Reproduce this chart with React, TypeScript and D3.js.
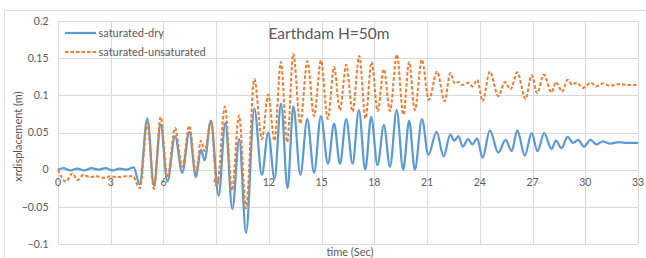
import React from "react";
import * as d3 from "d3";

const title = "Earthdam H=50m";
const seriesNames = ["saturated-dry", "saturated-unsaturated"];
const xTicks = [0, 3, 6, 9, 12, 15, 18, 21, 24, 27, 30, 33];
const yTicks = [-0.1, -0.05, 0, 0.05, 0.1, 0.15, 0.2];
const xLabel = "time (Sec)";
const yLabel = "xrdisplacement  (m)";

// [time (s), displacement (m)] — extrema
const saturatedDry: [number, number][] = [
  [0, 0], [0.3, 0.002], [0.7, -0.001], [1.1, 0.0015], [1.5, -0.001], [1.9, 0.002], [2.3, 0], [2.7, 0.002],
  [3.1, -0.001], [3.5, 0.0015], [3.9, 0], [4.3, 0.003],
  [4.65, -0.02], [5.08, 0.069], [5.46, -0.022], [5.84, 0.061], [6.22, -0.016], [6.66, 0.045], [7.07, -0.004],
  [7.47, 0.051], [7.85, -0.01], [8.13, 0.027], [8.34, 0.0125], [8.7, 0.066], [9.14, -0.035], [9.52, 0.063],
  [9.92, -0.053], [10.31, 0.041], [10.7, -0.085], [11.17, 0.082], [11.6, -0.007], [11.96, 0.05], [12.32, -0.012],
  [12.69, 0.089], [13.06, -0.025], [13.39, 0.085], [13.79, -0.007], [14.18, 0.068], [14.57, -0.004], [14.96, 0.072],
  [15.36, 0.008], [15.71, 0.062], [16.04, 0.008], [16.4, 0.068], [16.76, 0.008], [17.12, 0.08], [17.48, 0],
  [17.82, 0.071], [18.18, 0.006], [18.54, 0.06], [18.89, 0.004], [19.27, 0.08], [19.64, 0], [19.98, 0.066],
  [20.3, 0], [20.71, 0.068], [21.07, 0.02], [21.54, 0.051], [21.94, 0.018], [22.32, 0.047], [22.55, 0.039],
  [22.79, 0.045], [23.02, 0.031], [23.34, 0.041], [23.57, 0.034], [23.85, 0.042], [24.16, 0.016], [24.57, 0.053],
  [25.05, 0.023], [25.47, 0.04], [25.81, 0.025], [26.13, 0.053], [26.56, 0.019], [26.95, 0.049], [27.28, 0.025],
  [27.66, 0.049], [28.08, 0.028], [28.33, 0.039], [28.65, 0.029], [28.99, 0.044], [29.31, 0.036], [29.6, 0.04],
  [29.92, 0.031], [30.3, 0.04], [30.64, 0.034], [31.0, 0.038], [31.4, 0.035], [31.9, 0.037], [32.4, 0.036], [33, 0.036],
];

const saturatedUnsaturated: [number, number][] = [
  [0, 0], [0.45, -0.016], [0.82, -0.005], [1.1, -0.014], [1.45, -0.007], [1.8, -0.01], [2.2, -0.009], [2.6, -0.011],
  [3.0, -0.009], [3.4, -0.01], [3.8, -0.009], [4.25, -0.009],
  [4.66, -0.025], [5.08, 0.063], [5.46, -0.026], [5.84, 0.071], [6.22, -0.011], [6.66, 0.056], [7.07, 0.004],
  [7.47, 0.059], [7.85, -0.004], [8.13, 0.039], [8.34, 0.025], [8.7, 0.065], [9.05, -0.022], [9.5, 0.085],
  [9.9, -0.028], [10.3, 0.073], [10.7, -0.052], [11.17, 0.122], [11.6, 0.041], [11.96, 0.101], [12.32, 0.039],
  [12.68, 0.145], [13.04, 0.037], [13.39, 0.156], [13.78, 0.062], [14.19, 0.146], [14.57, 0.072], [14.96, 0.147],
  [15.35, 0.068], [15.71, 0.138], [16.04, 0.08], [16.4, 0.141], [16.76, 0.078], [17.14, 0.153], [17.5, 0.069],
  [17.84, 0.145], [18.19, 0.079], [18.54, 0.135], [18.89, 0.079], [19.28, 0.155], [19.65, 0.074], [19.98, 0.145],
  [20.3, 0.08], [20.7, 0.148], [21.1, 0.094], [21.57, 0.132], [22.0, 0.092], [22.32, 0.13], [22.58, 0.116],
  [22.8, 0.118], [23.0, 0.114], [23.34, 0.117], [23.59, 0.112], [23.85, 0.121], [24.16, 0.092], [24.57, 0.132],
  [25.05, 0.099], [25.43, 0.118], [25.75, 0.108], [26.13, 0.131], [26.6, 0.095], [26.95, 0.127], [27.26, 0.103],
  [27.64, 0.128], [28.08, 0.104], [28.33, 0.118], [28.69, 0.105], [28.99, 0.121], [29.25, 0.114], [29.5, 0.117],
  [29.88, 0.11], [30.3, 0.117], [30.64, 0.112], [31.0, 0.116], [31.4, 0.113], [31.9, 0.115], [32.4, 0.114], [33, 0.114],
];

const W = 646;
const H = 258;
const M = { left: 58, right: 638, top: 21, bottom: 244 };
const FONT = "Lato, 'Open Sans', sans-serif";
const GRID = "#D9D9D9";
const TXT = "#595959";
const BLUE = "#5B9BD5";
const ORANGE = "#ED7D31";

export default function App() {
  const x = d3.scaleLinear().domain([0, 33]).range([M.left, M.right]);
  const y = d3.scaleLinear().domain([-0.1, 0.2]).range([M.bottom, M.top]);
  const line = d3
    .line<[number, number]>()
    .x((d) => x(d[0]))
    .y((d) => y(d[1]))
    .curve(d3.curveMonotoneX);

  return (
    <svg
      width={W}
      height={H}
      style={{ position: "absolute", left: 0, top: 0, background: "#fff" }}
      fontFamily={FONT}
    >
      <rect x={0} y={0} width={W} height={H} fill="#fff" />
      {/* chart frame */}
      <line x1={4.5} y1={10.5} x2={W} y2={10.5} stroke={GRID} />
      <line x1={4.5} y1={10.5} x2={4.5} y2={H} stroke={GRID} />

      {/* grid */}
      {yTicks.map((t) => (
        <line key={"gy" + t} x1={M.left} x2={M.right} y1={Math.round(y(t)) + 0.5} y2={Math.round(y(t)) + 0.5} stroke={GRID} />
      ))}
      {xTicks.map((t) => (
        <line key={"gx" + t} x1={Math.round(x(t)) + 0.5} x2={Math.round(x(t)) + 0.5} y1={M.top} y2={M.bottom} stroke={GRID} />
      ))}

      {/* tick labels */}
      {yTicks.map((t) => (
        <text key={"ty" + t} x={48.5} y={y(t)} dy="0.35em" textAnchor="end" fontSize={10.5} fill={TXT}>
          {t === 0 ? "0" : d3.format("")(+t.toFixed(2))}
        </text>
      ))}
      {xTicks.map((t) => (
        <text key={"tx" + t} x={x(t)} y={y(0) + 13} dy="0.35em" dx={t === 0 ? 0 : 0} textAnchor="middle" fontSize={10.5} fill={TXT}>
          {t}
        </text>
      ))}

      {/* series */}
      <path d={line(saturatedDry) || ""} fill="none" stroke={BLUE} strokeWidth={2.25} strokeLinejoin="round" />
      <path
        d={line(saturatedUnsaturated) || ""}
        fill="none"
        stroke={ORANGE}
        strokeWidth={2}
        strokeDasharray="3.5,2"
      />

      {/* title */}
      <text x={329} y={34} dy="0.35em" textAnchor="middle" fontSize={15.5} fill={TXT}>
        {title}
      </text>

      {/* legend */}
      <line x1={65} x2={96} y1={33} y2={33} stroke={BLUE} strokeWidth={2.25} />
      <text x={98.5} y={33} dy="0.35em" fontSize={11} fill={TXT}>
        {seriesNames[0]}
      </text>
      <line x1={65} x2={96} y1={52} y2={52} stroke={ORANGE} strokeWidth={2} strokeDasharray="3.5,2" />
      <text x={98.5} y={52} dy="0.35em" fontSize={11} fill={TXT}>
        {seriesNames[1]}
      </text>

      {/* axis titles */}
      <text
        transform={`translate(18,${(M.top + M.bottom) / 2 + 4}) rotate(-90)`}
        dy="0.35em"
        textAnchor="middle"
        fontSize={11}
        fill={TXT}
      >
        {yLabel}
      </text>
      <text x={(M.left + M.right) / 2 + 2} y={252} dy="0.35em" textAnchor="middle" fontSize={11} fill={TXT}>
        {xLabel}
      </text>
    </svg>
  );
}
